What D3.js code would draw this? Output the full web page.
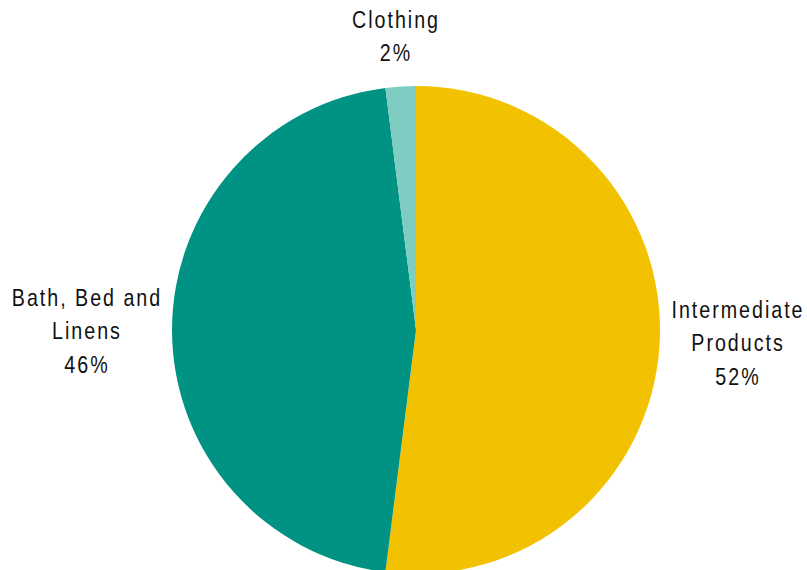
<!DOCTYPE html>
<html>
<head>
<meta charset="utf-8">
<script src="https://cdn.jsdelivr.net/npm/d3@7"></script>
<style>
  html, body { margin: 0; padding: 0; background: #fff; }
  svg { display: block; }
  .lbl { font-family: "Liberation Sans", Arial, sans-serif; font-size: 24px; fill: #111; letter-spacing: 2.4px; }
</style>
</head>
<body>
<svg id="chart" width="807" height="570"></svg>
<script>
// Share of shipments by product group
const categories = ["Intermediate Products", "Bath, Bed and Linens", "Clothing"];
const shares = [52, 46, 2];
const colors = ["#F2C100", "#009384", "#7FCCC3"];
// Label lines as printed beside each slice
const labelLines = [
  ["Intermediate", "Products", "52%"],
  ["Bath, Bed and", "Linens", "46%"],
  ["Clothing", "2%"]
];

const svg = d3.select("#chart");
const cx = 416, cy = 330, radius = 244;

const data = categories.map((c, i) => ({ name: c, value: shares[i], color: colors[i], lines: labelLines[i] }));

const pie = d3.pie().value(d => d.value).sort(null);
const arc = d3.arc().innerRadius(0).outerRadius(radius);
const arcs = pie(data);

const g = svg.append("g").attr("transform", `translate(${cx},${cy})`);
g.selectAll("path").data(arcs).join("path")
  .attr("d", arc)
  .attr("fill", d => d.data.color);

// Label anchors (centre x, first baseline) placed around the pie
const labelPos = [
  { x: 737, y: 318 },
  { x: 86, y: 306 },
  { x: 395, y: 28 }
];
const lineH = 33.5;
const narrow = 0.82; // horizontal condensing of the label face

svg.selectAll("text.lbl").data(arcs).join("text")
  .attr("class", "lbl")
  .attr("text-anchor", "middle")
  .attr("transform", (d, i) => `translate(${labelPos[i].x + 1},0) scale(${narrow},1)`)
  .each(function (d, i) {
    const t = d3.select(this);
    d.data.lines.forEach((ln, j) => {
      t.append("tspan")
        .attr("x", 0)
        .attr("y", labelPos[i].y + j * lineH)
        .text(ln);
    });
  });
</script>
</body>
</html>
